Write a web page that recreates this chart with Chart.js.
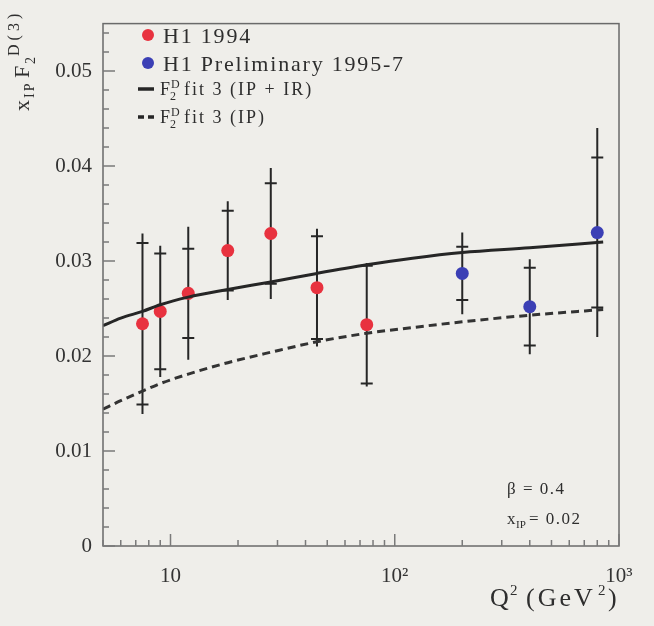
<!DOCTYPE html>
<html>
<head>
<meta charset="utf-8">
<script src="https://cdn.jsdelivr.net/npm/chart.js@4/dist/chart.umd.min.js"></script>
<style>
  html, body { margin: 0; padding: 0; background: #efeeea; }
  canvas { display: block; }
</style>
</head>
<body>
<canvas id="f2Chart" width="654" height="626"></canvas>
<script>
// H1 1994 points (Q2, value, stat error, total error)
const q2H1_94 = [7.5, 9, 12, 18, 28, 45, 75];
const f2H1_94 = [0.0234, 0.0247, 0.0266, 0.0311, 0.0329, 0.0272, 0.0233];
const statH1_94 = [0.0085, 0.0061, 0.0047, 0.0042, 0.0053, 0.0054, 0.0062];
const totH1_94 = [0.0095, 0.0069, 0.0070, 0.0052, 0.0069, 0.0062, 0.0065];

// H1 preliminary 1995-7 points
const q2Prelim = [200, 400, 800];
const f2Prelim = [0.0287, 0.0252, 0.0330];
const statPrelim = [0.0028, 0.0041, 0.0079];
const totPrelim = [0.0043, 0.0050, 0.0110];

// fit 3 curves
const q2Fit = [5, 6, 7.5, 9, 12, 18, 28, 45, 75, 120, 200, 400, 850];
const fitPomReg = [0.0232, 0.0240, 0.0247, 0.0254, 0.0262, 0.0270, 0.0278, 0.0287, 0.0296, 0.0303, 0.0309, 0.0314, 0.0320];
const fitPom = [0.0144, 0.0153, 0.0163, 0.0171, 0.0181, 0.0193, 0.0204, 0.0215, 0.0224, 0.0230, 0.0236, 0.0243, 0.0249];

// axis ticks
const xTickVals = [10, 100, 1000];
const xTickLabels = ['10', '10²', '10³'];
const yTickVals = [0, 0.01, 0.02, 0.03, 0.04, 0.05];
const yTickLabels = ['0', '0.01', '0.02', '0.03', '0.04', '0.05'];

const serif = '"Liberation Serif", "Times New Roman", serif';
const ink = '#262626';
const red = '#e8323f';
const blue = '#3b3fb5';

function toPoints(xs, ys) {
    return xs.map((x, i) => ({ x: x, y: ys[i] }));
}

// draws pieces of text (with sub/superscripts) from an origin
function drawParts(ctx, x0, y0, parts) {
    parts.forEach(p => {
        ctx.font = p.size + 'px ' + serif;
        ctx.letterSpacing = (p.ls || 0) + 'px';
        ctx.fillText(p.t, x0 + p.at, y0 + (p.dy || 0));
    });
    ctx.letterSpacing = '0px';
}

const errorBars = {
    id: 'errorBars',
    beforeDatasetsDraw(chart) {
        const ctx = chart.ctx;
        const xs = chart.scales.x, ys = chart.scales.y;
        const sets = [
            [q2H1_94, f2H1_94, statH1_94, totH1_94],
            [q2Prelim, f2Prelim, statPrelim, totPrelim]
        ];
        ctx.save();
        ctx.strokeStyle = ink;
        ctx.lineWidth = 2;
        sets.forEach(s => {
            s[0].forEach((q, i) => {
                const px = xs.getPixelForValue(q);
                const v = s[1][i];
                ctx.beginPath();
                ctx.moveTo(px, ys.getPixelForValue(v - s[3][i]));
                ctx.lineTo(px, ys.getPixelForValue(v + s[3][i]));
                [v - s[2][i], v + s[2][i]].forEach(c => {
                    const py = ys.getPixelForValue(c);
                    ctx.moveTo(px - 6, py);
                    ctx.lineTo(px + 6, py);
                });
                ctx.stroke();
            });
        });
        ctx.restore();
    }
};

const frameAndText = {
    id: 'frameAndText',
    beforeDraw(chart) {
        const ctx = chart.ctx;
        ctx.save();
        ctx.fillStyle = '#efeeea';
        ctx.fillRect(0, 0, chart.width, chart.height);
        ctx.restore();
    },
    afterDraw(chart) {
        const ctx = chart.ctx;
        const a = chart.chartArea;
        const xs = chart.scales.x, ys = chart.scales.y;
        ctx.save();

        // frame
        ctx.strokeStyle = '#6a6a6a';
        ctx.lineWidth = 1.5;
        ctx.strokeRect(a.left, a.top, a.right - a.left, a.bottom - a.top);

        // inward ticks
        ctx.strokeStyle = '#7a7a7a';
        ctx.beginPath();
        for (let k = 0; k <= 27; k++) {
            const v = k * 0.002;
            const py = ys.getPixelForValue(v);
            const len = (k % 5 === 0) ? 12 : 6;
            ctx.moveTo(a.left, py);
            ctx.lineTo(a.left + len, py);
        }
        for (let d = 1; d <= 1000; d *= 10) {
            for (let m = 1; m <= 9; m++) {
                const v = d * m;
                if (v < 5 || v > 1000) continue;
                const px = xs.getPixelForValue(v);
                const len = (m === 1) ? 12 : 6;
                ctx.moveTo(px, a.bottom);
                ctx.lineTo(px, a.bottom - len);
            }
        }
        ctx.stroke();

        ctx.fillStyle = '#2e2e2e';
        ctx.textBaseline = 'alphabetic';
        ctx.textAlign = 'left';

        // legend
        ctx.fillStyle = red;
        ctx.beginPath(); ctx.arc(148, 35, 6, 0, Math.PI * 2); ctx.fill();
        ctx.fillStyle = blue;
        ctx.beginPath(); ctx.arc(148, 63, 6, 0, Math.PI * 2); ctx.fill();
        ctx.fillStyle = '#2e2e2e';
        drawParts(ctx, 163, 43, [{ t: 'H1 1994', size: 22, at: 0, ls: 1.8 }]);
        drawParts(ctx, 163, 71, [{ t: 'H1 Preliminary 1995-7', size: 22, at: 0, ls: 1.8 }]);

        ctx.strokeStyle = ink;
        ctx.lineWidth = 3.5;
        ctx.beginPath(); ctx.moveTo(138, 89); ctx.lineTo(154, 89); ctx.stroke();
        ctx.setLineDash([6, 4]);
        ctx.beginPath(); ctx.moveTo(138, 117); ctx.lineTo(154, 117); ctx.stroke();
        ctx.setLineDash([]);

        const fitHead = [
            { t: 'F', size: 18, at: 0 },
            { t: '2', size: 12, at: 10, dy: 5 },
            { t: 'D', size: 12, at: 11, dy: -7 }
        ];
        drawParts(ctx, 160, 95, fitHead.concat([{ t: 'fit 3 (IP + IR)', size: 18, at: 24, ls: 2 }]));
        drawParts(ctx, 160, 123, fitHead.concat([{ t: 'fit 3 (IP)', size: 18, at: 24, ls: 2 }]));

        // beta / x_IP note
        drawParts(ctx, 507, 494, [{ t: 'β = 0.4', size: 17, at: 0, ls: 1.5 }]);
        drawParts(ctx, 507, 524, [
            { t: 'x', size: 17, at: 0 },
            { t: 'IP', size: 11, at: 9, dy: 4 },
            { t: '= 0.02', size: 17, at: 22, ls: 1.5 }
        ]);

        // axis titles
        drawParts(ctx, 490, 606, [
            { t: 'Q', size: 26, at: 0 },
            { t: '2', size: 15, at: 20, dy: -11 },
            { t: '(GeV', size: 26, at: 36, ls: 3 },
            { t: '2', size: 15, at: 108, dy: -11 },
            { t: ')', size: 26, at: 118 }
        ]);
        ctx.translate(29, 111);
        ctx.rotate(-Math.PI / 2);
        drawParts(ctx, 0, 0, [
            { t: 'x', size: 22, at: 0 },
            { t: 'IP', size: 14, at: 13, dy: 5, ls: 2 },
            { t: 'F', size: 22, at: 33 },
            { t: '2', size: 14, at: 47, dy: 6 },
            { t: 'D(3)', size: 16, at: 55, dy: -10, ls: 4 }
        ]);
        ctx.restore();
    }
};

const ctx = document.getElementById('f2Chart').getContext('2d');
const f2Chart = new Chart(ctx, {
    type: 'scatter',
    data: {
        datasets: [
            {
                label: 'F2D fit 3 (IP + IR)',
                data: toPoints(q2Fit, fitPomReg),
                showLine: true,
                borderColor: ink,
                borderWidth: 3,
                pointRadius: 0,
                cubicInterpolationMode: 'monotone'
            },
            {
                label: 'F2D fit 3 (IP)',
                data: toPoints(q2Fit, fitPom),
                showLine: true,
                borderColor: '#333333',
                borderWidth: 3,
                borderDash: [8, 5],
                pointRadius: 0,
                cubicInterpolationMode: 'monotone'
            },
            {
                label: 'H1 1994',
                data: toPoints(q2H1_94, f2H1_94),
                backgroundColor: red,
                borderWidth: 0,
                pointRadius: 6.5
            },
            {
                label: 'H1 Preliminary 1995-7',
                data: toPoints(q2Prelim, f2Prelim),
                backgroundColor: blue,
                borderWidth: 0,
                pointRadius: 6.5
            }
        ]
    },
    options: {
        responsive: false,
        animation: false,
        layout: { padding: { top: 15, right: 35, bottom: 0, left: 0 } },
        plugins: { legend: { display: false }, tooltip: { enabled: false } },
        scales: {
            x: {
                type: 'logarithmic',
                min: 5,
                max: 1000,
                grid: { display: false, drawTicks: false },
                border: { display: false },
                afterBuildTicks: s => { s.ticks = xTickVals.map(v => ({ value: v })); },
                afterFit: s => { s.height = 80; },
                ticks: {
                    autoSkip: false,
                    maxRotation: 0,
                    padding: 18,
                    color: '#333333',
                    font: { family: serif, size: 21 },
                    callback: (v, i) => xTickLabels[i]
                }
            },
            y: {
                min: 0,
                max: 0.055,
                grid: { display: false, drawTicks: false },
                border: { display: false },
                afterBuildTicks: s => { s.ticks = yTickVals.map(v => ({ value: v })); },
                afterFit: s => { s.width = 103; },
                ticks: {
                    autoSkip: false,
                    padding: 11,
                    color: '#333333',
                    font: { family: serif, size: 21 },
                    callback: (v, i) => yTickLabels[i]
                }
            }
        }
    },
    plugins: [errorBars, frameAndText]
});
</script>
</body>
</html>
